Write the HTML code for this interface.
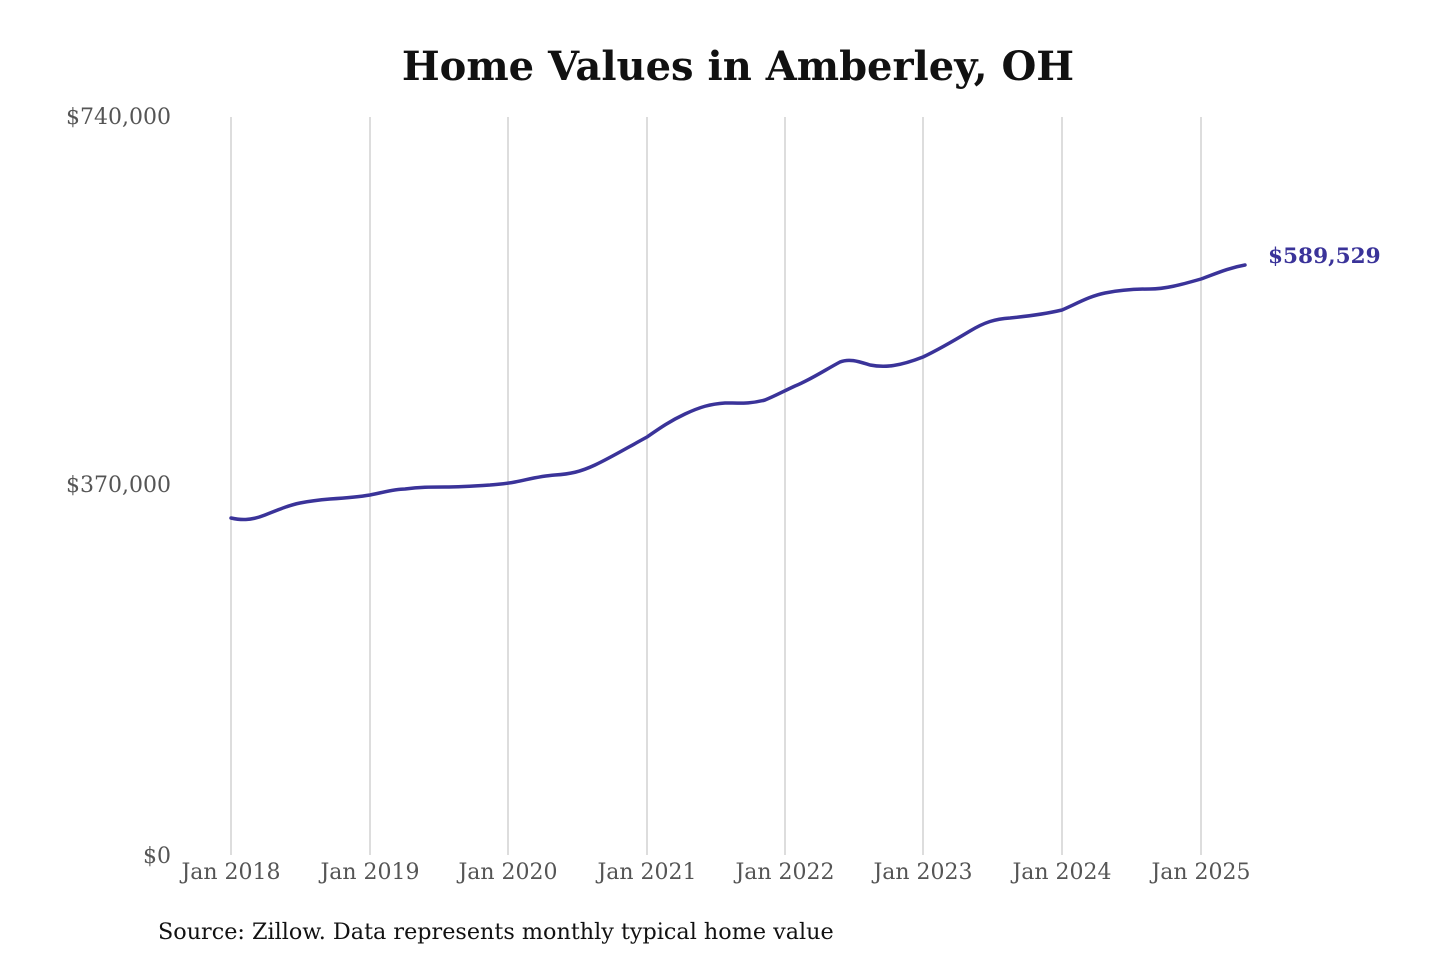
<!DOCTYPE html>
<html><head><meta charset="utf-8"><style>
html,body{margin:0;padding:0;background:#fff;}
svg{display:block;}
text{font-family:"DejaVu Serif","Liberation Serif",serif;}
</style></head><body>
<svg width="1440" height="960" viewBox="0 0 1440 960" xmlns="http://www.w3.org/2000/svg">
<rect width="1440" height="960" fill="#fff"/>
<text x="738" y="80" text-anchor="middle" font-size="40" font-weight="bold" fill="#111">Home Values in Amberley, OH</text>
<g stroke="#bbb" stroke-width="1">
<line x1="231" y1="117" x2="231" y2="855"/>
<line x1="370" y1="117" x2="370" y2="855"/>
<line x1="508" y1="117" x2="508" y2="855"/>
<line x1="647" y1="117" x2="647" y2="855"/>
<line x1="785" y1="117" x2="785" y2="855"/>
<line x1="923" y1="117" x2="923" y2="855"/>
<line x1="1062" y1="117" x2="1062" y2="855"/>
<line x1="1201" y1="117" x2="1201" y2="855"/>
</g>
<g font-size="22" fill="#555" text-anchor="end">
<text x="171" y="124">$740,000</text>
<text x="171" y="492">$370,000</text>
<text x="171" y="863">$0</text>
</g>
<g font-size="22" fill="#555" text-anchor="middle">
<text x="231" y="879">Jan 2018</text>
<text x="370" y="879">Jan 2019</text>
<text x="508" y="879">Jan 2020</text>
<text x="647" y="879">Jan 2021</text>
<text x="785" y="879">Jan 2022</text>
<text x="923" y="879">Jan 2023</text>
<text x="1062" y="879">Jan 2024</text>
<text x="1201" y="879">Jan 2025</text>
</g>
<path fill="none" stroke="#3a3399" stroke-width="3.5" stroke-linejoin="round" stroke-linecap="round"
d="M231,518 C240,520 250,521 265,515 C280,509 290,505 300,503 C310,501 318,500 330,499 C345,498 358,497 370,495 C385,492 395,489 405,489 C420,487 430,487 445,487 C460,487 475,486 490,485 C500,484 505,484 515,482 C530,479 540,476 555,475 C570,474 580,472 595,465 C610,458 625,449 647,437 C660,428 670,421 685,414 C700,407 710,404 725,403 C740,403 750,404 765,400 C775,396 782,392 795,386 C810,380 825,370 840,362 C850,358 860,362 870,365 C885,368 900,366 923,357 C940,349 955,340 970,331 C985,322 995,319 1010,318 C1030,316 1045,314 1062,310 C1078,303 1090,296 1105,293 C1120,290 1135,289 1150,289 C1165,289 1180,285 1201,279 C1215,274 1228,268 1245,265"/>
<text x="1268" y="263" font-size="21.6" font-weight="bold" fill="#3a3399">$589,529</text>
<text x="158" y="939" font-size="22.3" fill="#111">Source: Zillow. Data represents monthly typical home value</text>
</svg>
</body></html>
